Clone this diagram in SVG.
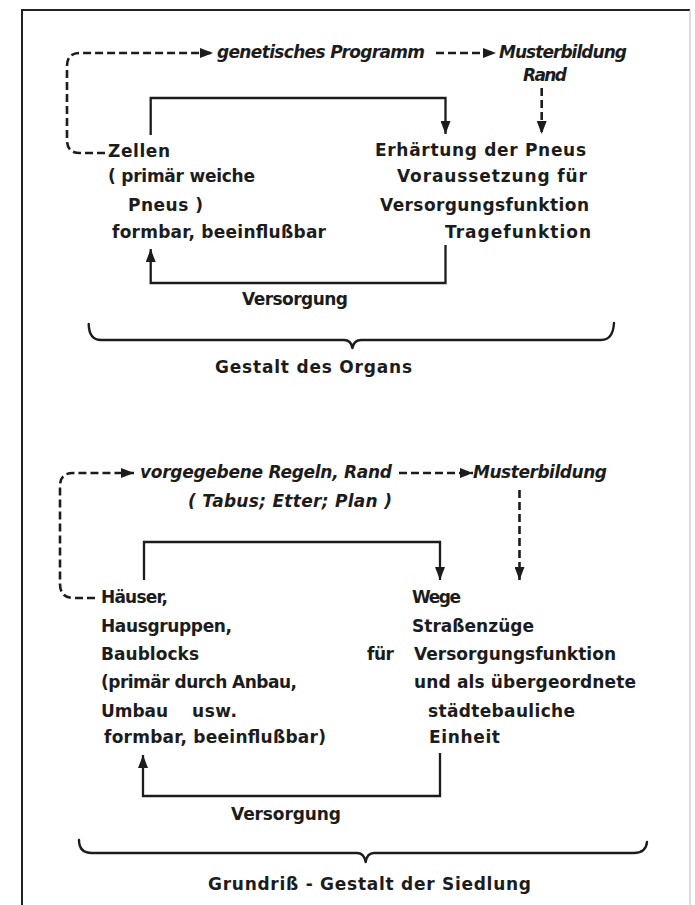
<svg xmlns="http://www.w3.org/2000/svg" width="695" height="905" viewBox="0 0 695 905">
<style>
.t{font-family:"DejaVu Sans","Liberation Sans",sans-serif;font-size:17px;font-weight:bold;fill:#1c1c1c}
.i{font-style:italic}
.s{fill:none;stroke:#1c1c1c;stroke-width:2.3;stroke-linejoin:miter}
.d{fill:none;stroke:#1c1c1c;stroke-width:2.6;stroke-dasharray:8 4}
.b{fill:none;stroke:#1c1c1c;stroke-width:2.4;stroke-linecap:round;stroke-linejoin:round}
</style>
<defs>
<marker id="ah" markerUnits="userSpaceOnUse" markerWidth="13" markerHeight="10" refX="13" refY="5" orient="auto">
<path d="M0,0 L13,5 L0,10 z" fill="#1c1c1c"/>
</marker>
</defs>
<rect width="695" height="905" fill="#fff"/>
<g id="frame">
<path d="M22,905 L22,10 L690,10" fill="none" stroke="#222" stroke-width="2"/>
<path d="M690,10 L690,905" fill="none" stroke="#bbb" stroke-width="1"/>
</g>

<g id="connectors">
<!-- top diagram -->
<path class="d" d="M105,153 L80,153 Q67,153 67,140 L67,66 Q67,53 80,53 L213,53" marker-end="url(#ah)"/>
<path class="d" d="M436,53 L496,53" marker-end="url(#ah)"/>
<path class="d" d="M541.7,88 L541.7,134" marker-end="url(#ah)"/>
<path class="s" d="M150.7,135 L150.7,98 L445.5,98 L445.5,134" marker-end="url(#ah)"/>
<path class="s" d="M445.5,245 L445.5,283 L150.7,283 L150.7,249" marker-end="url(#ah)"/>
<!-- bottom diagram -->
<path class="d" d="M95,598 L74,598 Q60,598 60,584 L60,486 Q60,473 73,473 L134,473" marker-end="url(#ah)"/>
<path class="d" d="M399,473 L473,473" marker-end="url(#ah)"/>
<path class="d" d="M519.5,490 L519.5,580" marker-end="url(#ah)"/>
<path class="s" d="M144,580 L144,542 L440,542 L440,580" marker-end="url(#ah)"/>
<path class="s" d="M440,753 L440,796 L143,796 L143,755" marker-end="url(#ah)"/>
</g>

<g id="brace-top"><path class="b" d="M88.7,324 Q89,340 101,340 L344,340 Q351,340 352.4,348 Q354,340 361,340 L601,340 Q613,340 614,323"/></g>
<g id="brace-bottom"><path class="b" d="M79,840 Q79,853 92,853 L357,853 Q364,853 365.7,862 Q367,853 374,853 L634,853 Q646,853 647,842"/></g>

<g id="genetisches-programm"><text class="t i" x="217" y="58" textLength="208">genetisches Programm</text></g>
<g id="musterbildung-rand">
<text class="t i" x="499" y="58" textLength="128">Musterbildung</text>
<text class="t i" x="523" y="81" textLength="44">Rand</text>
</g>
<g id="zellen">
<text class="t" x="108" y="157" textLength="62">Zellen</text>
<text class="t" x="108" y="182" textLength="147">( primär weiche</text>
<text class="t" x="128" y="211" textLength="75">Pneus )</text>
<text class="t" x="112" y="238" textLength="214">formbar, beeinflußbar</text>
</g>
<g id="erhaertung">
<text class="t" x="375" y="156" textLength="211">Erhärtung der Pneus</text>
<text class="t" x="397" y="182" textLength="190">Voraussetzung für</text>
<text class="t" x="380" y="211" textLength="209">Versorgungsfunktion</text>
<text class="t" x="445" y="238" textLength="146">Tragefunktion</text>
</g>
<g id="versorgung-top"><text class="t" x="242" y="305" textLength="106">Versorgung</text></g>
<g id="gestalt-organ"><text class="t" x="215" y="373" textLength="197">Gestalt des Organs</text></g>

<g id="regeln">
<text class="t i" x="140" y="478" textLength="252">vorgegebene Regeln, Rand</text>
<text class="t i" x="188" y="507" textLength="204">( Tabus; Etter; Plan )</text>
</g>
<g id="musterbildung-2"><text class="t i" x="473" y="478" textLength="134">Musterbildung</text></g>
<g id="haeuser">
<text class="t" x="101" y="603" textLength="67">Häuser,</text>
<text class="t" x="101" y="632" textLength="131">Hausgruppen,</text>
<text class="t" x="101" y="660" textLength="98">Baublocks</text>
<text class="t" x="101" y="688" textLength="196">(primär durch Anbau,</text>
<text class="t" x="101" y="717" textLength="67">Umbau</text>
<text class="t" x="192" y="717" textLength="45">usw.</text>
<text class="t" x="104" y="743" textLength="222">formbar, beeinflußbar)</text>
</g>
<g id="wege">
<text class="t" x="412" y="603" textLength="49">Wege</text>
<text class="t" x="412" y="632" textLength="122">Straßenzüge</text>
<text class="t" x="367" y="660" textLength="27">für</text>
<text class="t" x="414" y="660" textLength="202">Versorgungsfunktion</text>
<text class="t" x="414" y="688" textLength="222">und als übergeordnete</text>
<text class="t" x="428" y="717" textLength="147">städtebauliche</text>
<text class="t" x="429" y="743" textLength="71">Einheit</text>
</g>
<g id="versorgung-bottom"><text class="t" x="231" y="820" textLength="110">Versorgung</text></g>
<g id="grundriss"><text class="t" x="208" y="890" textLength="323">Grundriß - Gestalt der Siedlung</text></g>
</svg>
